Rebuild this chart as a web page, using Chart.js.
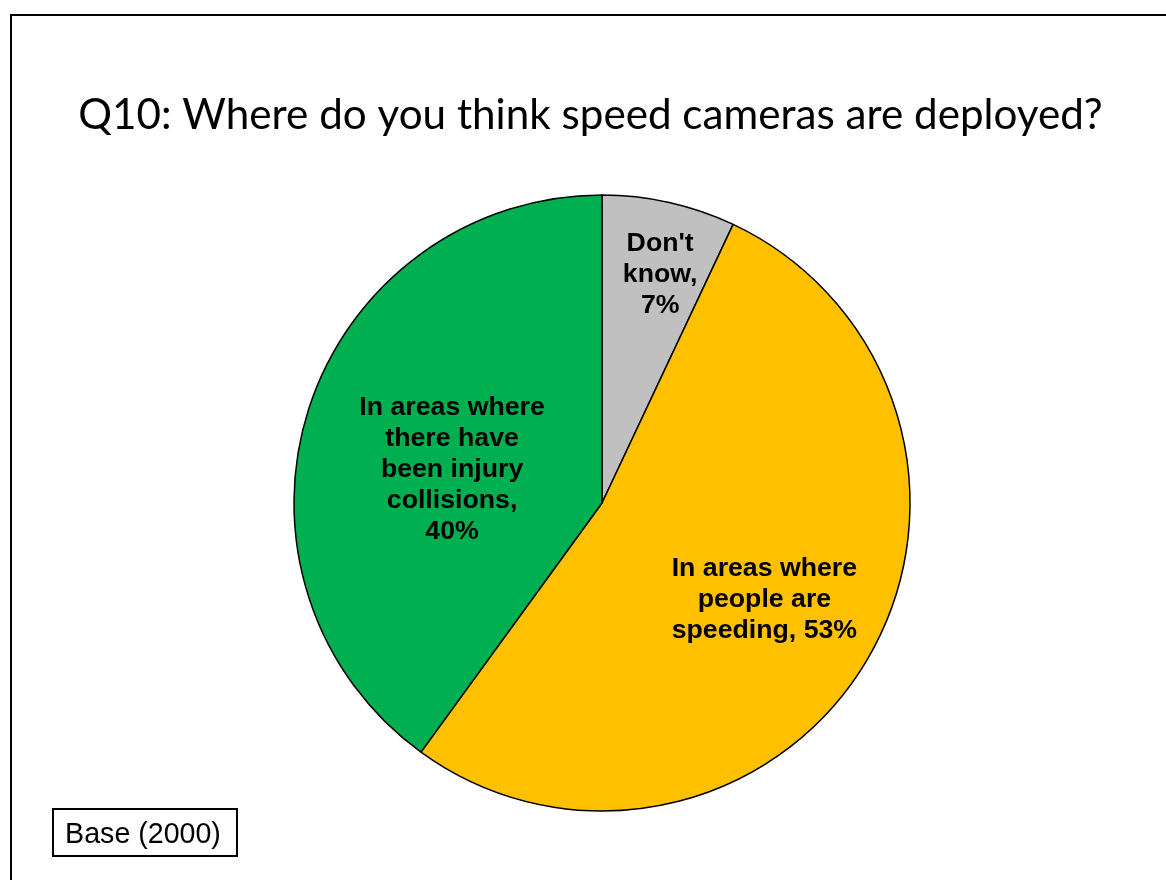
<!DOCTYPE html>
<html>
<head>
<meta charset="utf-8">
<script src="https://cdn.jsdelivr.net/npm/chart.js@4/dist/chart.umd.min.js"></script>
<style>
  html, body { margin: 0; padding: 0; background: #fff; }
  #wrap { position: relative; width: 1166px; height: 880px; }
</style>
</head>
<body>
<div id="wrap"><canvas id="pie" width="1166" height="880"></canvas></div>
<script>
const titleText = 'Q10: Where do you think speed cameras are deployed?';
const baseText = 'Base (2000)';

const categories = ["Don't know", 'In areas where people are speeding', 'In areas where there have been injury collisions'];
const shares = [7, 53, 40];
const sliceColors = ['#C0C0C0', '#FFC000', '#00B050'];

// label text split into lines, plus where each sits inside its slice
const labelLines = [
  ["Don't", 'know,', '7%'],
  ['In areas where', 'people are', 'speeding, 53%'],
  ['In areas where', 'there have', 'been injury', 'collisions,', '40%']
];
const labelPlace = [
  { frac: 0.77, turn: 1.6 },
  { frac: 0.61, turn: -0.4 },
  { frac: 0.50, turn: -4.8 }
];

const decorations = {
  id: 'decorations',
  beforeDraw(chart) {
    const ctx = chart.ctx;
    ctx.save();
    // outer frame, open at right and bottom
    ctx.strokeStyle = '#000';
    ctx.lineWidth = 2;
    ctx.beginPath();
    ctx.moveTo(11, 880);
    ctx.lineTo(11, 15);
    ctx.lineTo(1166, 15);
    ctx.stroke();

    // title, fitted to its printed width
    let size = 40;
    ctx.font = size + 'px Lato, "Open Sans", sans-serif';
    const w = ctx.measureText(titleText).width;
    size = size * 1025 / w;
    ctx.font = size + 'px Lato, "Open Sans", sans-serif';
    ctx.fillStyle = '#000';
    ctx.textAlign = 'center';
    ctx.textBaseline = 'alphabetic';
    ctx.fillText(titleText, 590.5, 129);

    // base note box
    ctx.lineWidth = 2;
    ctx.strokeRect(53, 809, 184, 47);
    ctx.font = '28.6px "Liberation Sans", Arial, sans-serif';
    ctx.fillText(baseText, 143, 843);
    ctx.restore();
  },
  afterDatasetsDraw(chart) {
    const ctx = chart.ctx;
    const arcs = chart.getDatasetMeta(0).data;
    ctx.save();
    ctx.font = 'bold 26.7px "Liberation Sans", Arial, sans-serif';
    ctx.fillStyle = '#000';
    ctx.textAlign = 'center';
    ctx.textBaseline = 'middle';
    arcs.forEach((arc, i) => {
      const p = arc.getProps(['x', 'y', 'startAngle', 'endAngle', 'outerRadius'], true);
      const mid = (p.startAngle + p.endAngle) / 2 + labelPlace[i].turn * Math.PI / 180;
      const r = p.outerRadius * labelPlace[i].frac;
      const cx = p.x + Math.cos(mid) * r;
      const cy = p.y + Math.sin(mid) * r + 2;
      const lines = labelLines[i];
      const lh = 31;
      lines.forEach((t, k) => {
        ctx.fillText(t, cx, cy + (k - (lines.length - 1) / 2) * lh);
      });
    });
    ctx.restore();
  }
};

new Chart(document.getElementById('pie'), {
  type: 'pie',
  data: {
    labels: categories,
    datasets: [{
      data: shares,
      backgroundColor: sliceColors,
      borderColor: '#000',
      borderWidth: 1.5
    }]
  },
  options: {
    responsive: false,
    animation: false,
    radius: 308,
    layout: { padding: { left: 38, right: 0, top: 126, bottom: 0 } },
    plugins: {
      legend: { display: false },
      tooltip: { enabled: false }
    }
  },
  plugins: [decorations]
});
</script>
</body>
</html>
